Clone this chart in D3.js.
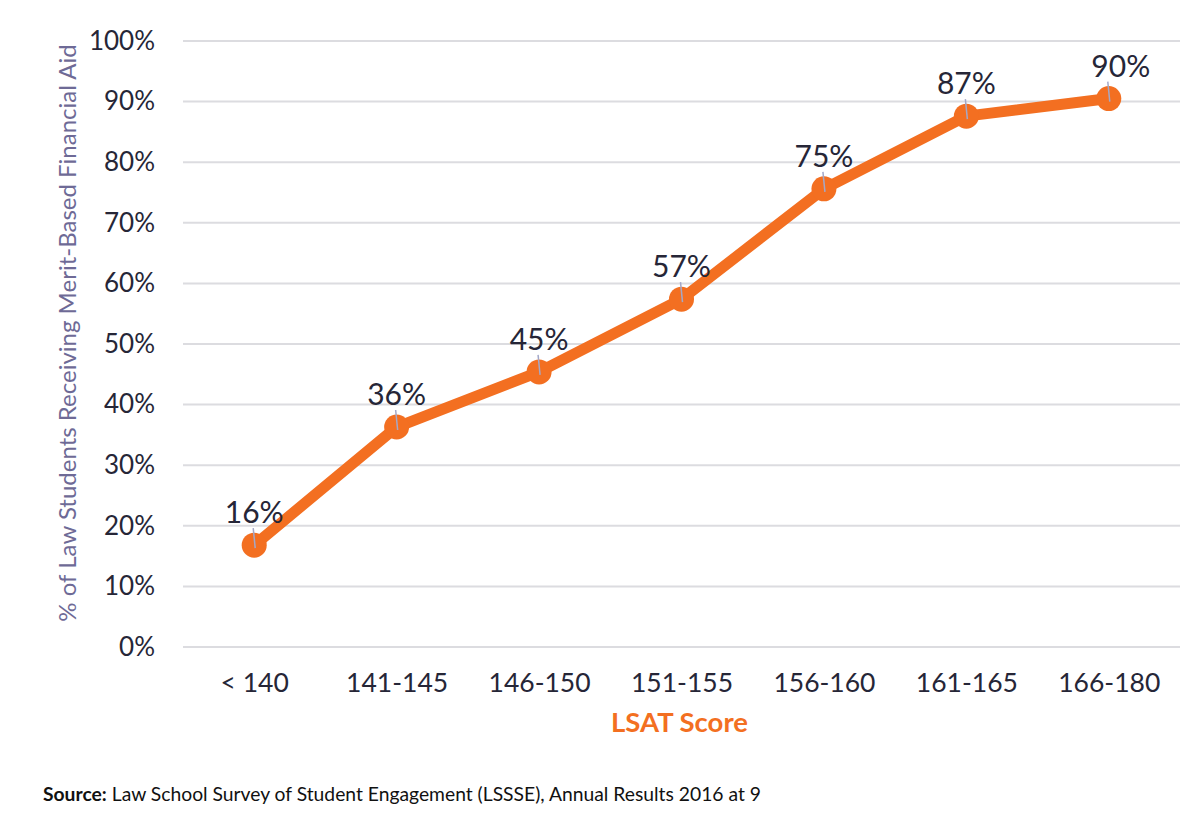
<!DOCTYPE html>
<html>
<head>
<meta charset="utf-8">
<script src="https://cdn.jsdelivr.net/npm/d3@7"></script>
<style>
  html, body { margin: 0; padding: 0; background: #fff; }
  svg { display: block; font-family: Lato, "Open Sans", sans-serif; }
</style>
</head>
<body>
<svg id="chart" width="1200" height="837"></svg>
<script>
// LSAT score vs merit aid
const categories = ['< 140', '141-145', '146-150', '151-155', '156-160', '161-165', '166-180'];
const values = [16.8, 36.3, 45.4, 57.4, 75.6, 87.6, 90.5];
const valueLabels = ['16%', '36%', '45%', '57%', '75%', '87%', '90%'];
const yTicks = [0, 10, 20, 30, 40, 50, 60, 70, 80, 90, 100];

const orange = '#f36f21';
const ink = '#262637';

const svg = d3.select('#chart');
const margin = { top: 41, right: 20, bottom: 190, left: 183 };
const width = 1200 - margin.left - margin.right;
const height = 837 - margin.top - margin.bottom;

const g = svg.append('g').attr('transform', `translate(${margin.left},${margin.top})`);

const x = d3.scalePoint().domain(categories).range([0, width]).padding(0.5);
const y = d3.scaleLinear().domain([0, 100]).range([height, 0]);

// gridlines
g.append('g')
    .selectAll('line')
    .data(yTicks)
    .join('line')
    .attr('x1', 0)
    .attr('x2', width)
    .attr('y1', d => y(d))
    .attr('y2', d => y(d))
    .attr('stroke', '#dcdce0')
    .attr('stroke-width', 2);

// y axis labels
const yAxis = g.append('g')
    .call(d3.axisLeft(y).tickValues(yTicks).tickFormat(d => d + '%').tickSize(0).tickPadding(28));
yAxis.select('.domain').remove();
yAxis.selectAll('text')
    .attr('font-size', 26)
    .attr('font-family', 'Lato, sans-serif')
    .attr('fill', ink);

// x axis labels
const xAxis = g.append('g')
    .attr('transform', `translate(0,${height})`)
    .call(d3.axisBottom(x).tickSize(0).tickPadding(26));
xAxis.select('.domain').remove();
xAxis.selectAll('text')
    .attr('font-size', 26.5)
    .attr('font-family', 'Lato, sans-serif')
    .attr('fill', ink);

// line
const line = d3.line()
    .x((d, i) => x(categories[i]))
    .y(d => y(d));

g.append('path')
    .datum(values)
    .attr('d', line)
    .attr('fill', 'none')
    .attr('stroke', orange)
    .attr('stroke-width', 11)
    .attr('stroke-linejoin', 'round');

g.append('g')
    .selectAll('circle')
    .data(values)
    .join('circle')
    .attr('cx', (d, i) => x(categories[i]))
    .attr('cy', d => y(d))
    .attr('r', 12.5)
    .attr('fill', orange);

// small leader ticks
g.append('g')
    .selectAll('line')
    .data(values)
    .join('line')
    .attr('x1', (d, i) => x(categories[i]) + 1)
    .attr('x2', (d, i) => x(categories[i]) - 1)
    .attr('y1', d => y(d) + 3)
    .attr('y2', d => y(d) - 17)
    .attr('stroke', '#a3a8c8')
    .attr('stroke-width', 1.5);

// value labels
g.append('g')
    .selectAll('text')
    .data(values)
    .join('text')
    .attr('x', (d, i) => x(categories[i]) + (i === values.length - 1 ? 12 : 0))
    .attr('y', d => y(d) - 22)
    .attr('text-anchor', 'middle')
    .attr('font-size', 30)
    .attr('fill', ink)
    .text((d, i) => valueLabels[i]);

// axis titles
svg.append('text')
    .attr('x', margin.left + width / 2 - 2)
    .attr('y', 732)
    .attr('text-anchor', 'middle')
    .attr('font-size', 27.5)
    .attr('font-weight', 'bold')
    .attr('fill', orange)
    .text('LSAT Score');

svg.append('text')
    .attr('transform', 'translate(76,333) rotate(-90)')
    .attr('text-anchor', 'middle')
    .attr('font-size', 24)
    .attr('fill', '#6e6a96')
    .text('% of Law Students Receiving Merit-Based Financial Aid');

// source
const src = svg.append('text')
    .attr('x', 43)
    .attr('y', 801)
    .attr('font-size', 19.3)
    .attr('fill', '#111');
src.append('tspan').attr('font-weight', 'bold').text('Source:');
src.append('tspan').text(' Law School Survey of Student Engagement (LSSSE), Annual Results 2016 at 9');
</script>
</body>
</html>
